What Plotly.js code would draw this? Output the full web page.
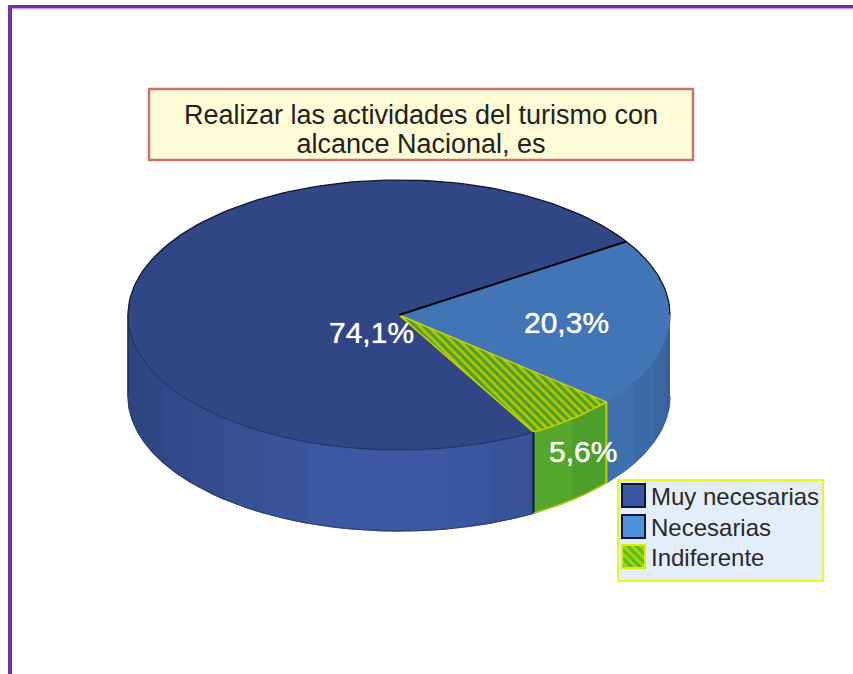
<!DOCTYPE html>
<html><head><meta charset="utf-8">
<script src="https://cdn.plot.ly/plotly-3.0.1.min.js"></script>
<style>html,body{margin:0;padding:0;background:#fff;overflow:hidden}</style>
</head><body><div id="chart" style="width:853px;height:674px"></div>
<script>
const categories = ['Muy necesarias', 'Necesarias', 'Indiferente'];
const values = [74.1, 20.3, 5.6];
const valueLabels = ['74,1%', '20,3%', '5,6%'];
const titleLines = ['Realizar las actividades del turismo con', 'alcance Nacional, es'];

const topColors = ['#314684', '#4275b6', '#4f9f2a'];
const legendColors = ['#3b55a5', '#4f91dd', '#5fb81f'];
const lineColors = ['#0c1430', '#0c1430', '#c3d400'];
const bandColors = [
  ['#39539a', '#3b56a0', '#3c58a2', '#3c58a2', '#3b57a0', '#39549b', '#365094', '#344c8b', '#31488a', '#304783', '#2f4580', '#2e447e'],
  ['#35629a', '#38669f', '#3b6ba7', '#3e70ae'],
  ['#4e9e2a', '#55a82c']
];

const CX = 399, CY = 315, RX = 271, RY = 135, DEPTH = 81, START = 33;
const clockwiseOrder = [1, 2, 0];
const rad = d => d * Math.PI / 180;
const px = a => CX + RX * Math.cos(rad(a));
const py = a => CY - RY * Math.sin(rad(a));
function arc(a, b) {
  const n = Math.max(2, Math.ceil(Math.abs(b - a) / 1.5));
  const xs = [], ys = [];
  for (let i = 0; i <= n; i++) { const t = a + (b - a) * i / n; xs.push(px(t)); ys.push(py(t)); }
  return [xs, ys];
}

// slice angles, clockwise from START
const spans = [];
let cur = START;
clockwiseOrder.forEach(i => { spans[i] = [cur, cur - values[i] * 3.6]; cur = spans[i][1]; });

const traces = [];
function side(idx, from, to) {
  const bands = bandColors[idx];
  const step = (from - to) / bands.length;
  bands.forEach((c, j) => {
    const a = from - j * step, b = a - step;
    const [xs, ys] = arc(a, b);
    traces.push({
      x: xs.concat(xs.slice().reverse()),
      y: ys.concat(ys.slice().reverse().map(v => v + DEPTH)),
      mode: 'lines', fill: 'toself', fillcolor: c,
      line: {width: 1.4, color: c}, showlegend: false, hoverinfo: 'skip'
    });
  });
}
// only the lower half of the ellipse shows a wall
side(1, 0, spans[1][1]);
side(2, spans[2][0], spans[2][1]);
side(0, spans[0][0], -180);

// top faces
values.forEach((v, i) => {
  const [xs, ys] = arc(spans[i][0], spans[i][1]);
  const t = {
    name: categories[i],
    x: [CX].concat(xs, [CX]), y: [CY].concat(ys, [CY]),
    mode: 'lines', fill: 'toself', fillcolor: topColors[i],
    line: {width: i === 2 ? 1.5 : 0, color: lineColors[i]},
    showlegend: false, hoverinfo: 'name'
  };
  if (i === 2) t.fillpattern = {shape: '\\', bgcolor: '#4f9f2a', fgcolor: '#b4c800', size: 6, solidity: 0.45};
  traces.push(t);
});

// outlines
const outline = (xs, ys, color, w) => traces.push({x: xs, y: ys, mode: 'lines', line: {color, width: w}, showlegend: false, hoverinfo: 'skip'});
const a0 = spans[1][0], a1 = spans[1][1], a2 = spans[2][1];
const upper = arc(0, 180);
outline(upper[0], upper[1], '#10182f', 1.3);
const lowerFront = arc(180, 360 + a2);
outline(lowerFront[0], lowerFront[1], '#1c2a55', 0.8);
const botMuy = arc(-180, a2);
outline(botMuy[0], botMuy[1].map(v => v + DEPTH), '#2e3a60', 0.8);
outline([px(180), px(180)], [py(180), py(180) + DEPTH], '#1a2240', 1);
outline([CX, px(a0)], [CY, py(a0)], '#05070f', 2);
outline([px(a1), px(a1)], [py(a1), py(a1) + DEPTH], '#c3d400', 2);
outline([px(a2), px(a2)], [py(a2), py(a2) + DEPTH], '#10182f', 2);
const gBot = arc(a1, a2);
outline(gBot[0], gBot[1].map(v => v + DEPTH), '#c3d400', 1.2);

// legend entries
categories.forEach((c, i) => {
  const e = {
    name: c, x: [null], y: [null], mode: 'lines', fill: 'toself',
    fillcolor: legendColors[i],
    line: {width: 2, color: i === 2 ? '#d6f000' : '#10182f'},
    showlegend: true, hoverinfo: 'skip'
  };
  if (i === 2) e.fillpattern = {shape: '\\', bgcolor: '#5fb81f', fgcolor: '#a8dc00', size: 6, solidity: 0.45};
  traces.push(e);
});

const labelPos = [[371, 332], [566, 322], [583, 451]];
const annotations = valueLabels.map((t, i) => ({
  x: labelPos[i][0], y: labelPos[i][1], xref: 'x', yref: 'y', text: t, showarrow: false,
  font: {family: 'Liberation Sans, Arial, sans-serif', size: 30, color: '#ffffff', shadow: '0 0 1px #ffffff'}
}));

const layout = {
  width: 853, height: 674,
  margin: {l: 0, r: 0, t: 0, b: 0},
  paper_bgcolor: '#ffffff', plot_bgcolor: '#ffffff',
  xaxis: {range: [0, 853], visible: false, fixedrange: true},
  yaxis: {range: [674, 0], visible: false, fixedrange: true},
  title: {
    text: titleLines.join('<br>'), x: 421 / 853, y: 1 - 124 / 674,
    xanchor: 'center', yanchor: 'middle',
    font: {family: 'Liberation Sans, Arial, sans-serif', size: 27, color: '#222222'}
  },
  legend: {
    x: 617 / 853, y: 1 - 478.5 / 674, xanchor: 'left', yanchor: 'top',
    bgcolor: '#e3eefa', bordercolor: '#e4fb1e', borderwidth: 2,
    font: {family: 'Liberation Sans, Arial, sans-serif', size: 24, color: '#2a2a2a'},
    itemwidth: 30, tracegroupgap: 0
  },
  shapes: [
    {type: 'rect', xref: 'x', yref: 'y', x0: 149, x1: 693, y0: 89, y1: 160,
     fillcolor: '#fdfcd6', line: {color: '#c9736f', width: 2.5}, layer: 'below'},
    {type: 'line', xref: 'x', yref: 'y', x0: 8, x1: 853, y0: 8.7, y1: 8.7, line: {color: '#c9a6e6', width: 1.4}, layer: 'below'},
    {type: 'line', xref: 'x', yref: 'y', x0: 8, x1: 853, y0: 6.5, y1: 6.5, line: {color: '#6f2da0', width: 3}, layer: 'below'},
    {type: 'line', xref: 'x', yref: 'y', x0: 10, x1: 10, y0: 5, y1: 674, line: {color: '#7433a5', width: 4}, layer: 'below'}
  ],
  annotations,
  showlegend: true
};

// Tighten what the library has no option for: title line spacing, legend swatch size and rows
function finish(gd) {
  const titleTspans = gd.querySelectorAll('.gtitle tspan.line');
  if (titleTspans[1]) titleTspans[1].setAttribute('dy', (29 / 27) + 'em');
  const rows = gd.querySelectorAll('.legend .traces');
  const rowY = [17, 48, 78];
  rows.forEach((r, i) => {
    r.setAttribute('transform', 'translate(0,' + rowY[i] + ')');
    const rect = 'M5,-11.5h23v23h-23z';
    const f = r.querySelector('.legendfill path');
    const l = r.querySelector('.legendlines path');
    if (f) f.setAttribute('d', rect);
    if (l) l.setAttribute('d', rect);
    const t = r.querySelector('.legendtext');
    if (t) { t.setAttribute('x', 34); t.querySelectorAll('tspan').forEach(s => s.setAttribute('x', 34)); }
  });
  const bg = gd.querySelector('.legend .bg');
  if (bg) { bg.setAttribute('width', 205); bg.setAttribute('height', 101); }
}
Plotly.newPlot('chart', traces, layout, {displayModeBar: false, responsive: false}).then(finish);
</script></body></html>
